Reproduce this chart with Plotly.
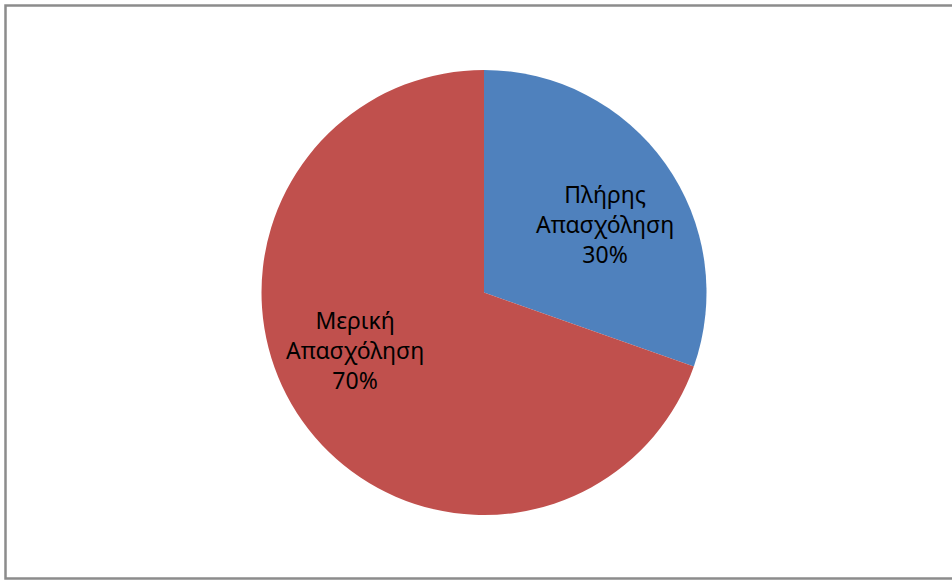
import plotly.graph_objects as go

labels = ["Πλήρης Απασχόληση", "Μερική Απασχόληση"]
label_lines = ["Πλήρης<br>Απασχόληση", "Μερική<br>Απασχόληση"]
values = [30.4, 69.6]
colors = ["#4F81BD", "#C0504D"]

W, H = 952, 581
cx, cy, r = 484, 292.5, 222.5

fig = go.Figure(go.Pie(
    labels=labels,
    values=values,
    sort=False,
    direction="clockwise",
    rotation=0,
    marker=dict(colors=colors, line=dict(width=0)),
    textinfo="none",
    hoverinfo="label+percent",
    showlegend=False,
    domain=dict(x=[(cx - r) / W, (cx + r) / W],
                y=[(H - cy - r) / H, (H - cy + r) / H]),
))

# label positions (pixels, screen coords)
label_pos = [(605, 224), (355, 350)]
total = sum(values)
annotations = []
for (px, py), txt, v in zip(label_pos, label_lines, values):
    annotations.append(dict(
        x=px / W, y=1 - py / H, xref="paper", yref="paper",
        text=f"{txt}<br>{round(100 * v / total)}%",
        showarrow=False, xanchor="center", yanchor="middle",
        font=dict(family="Noto Sans", size=23, color="#000000"),
    ))

fig.update_layout(
    width=W, height=H,
    margin=dict(l=0, r=0, t=0, b=0),
    paper_bgcolor="white",
    annotations=annotations,
    shapes=[dict(type="rect", xref="paper", yref="paper",
                 x0=5.5 / W, x1=960 / W, y0=1 - 578.5 / H, y1=1 - 5.5 / H,
                 line=dict(color="#8c8c8c", width=2.5))],
)

fig.write_html(
    "out.html",
    config={"displayModeBar": False},
    post_script="document.body.style.margin='0';document.body.style.overflow='hidden';",
)
